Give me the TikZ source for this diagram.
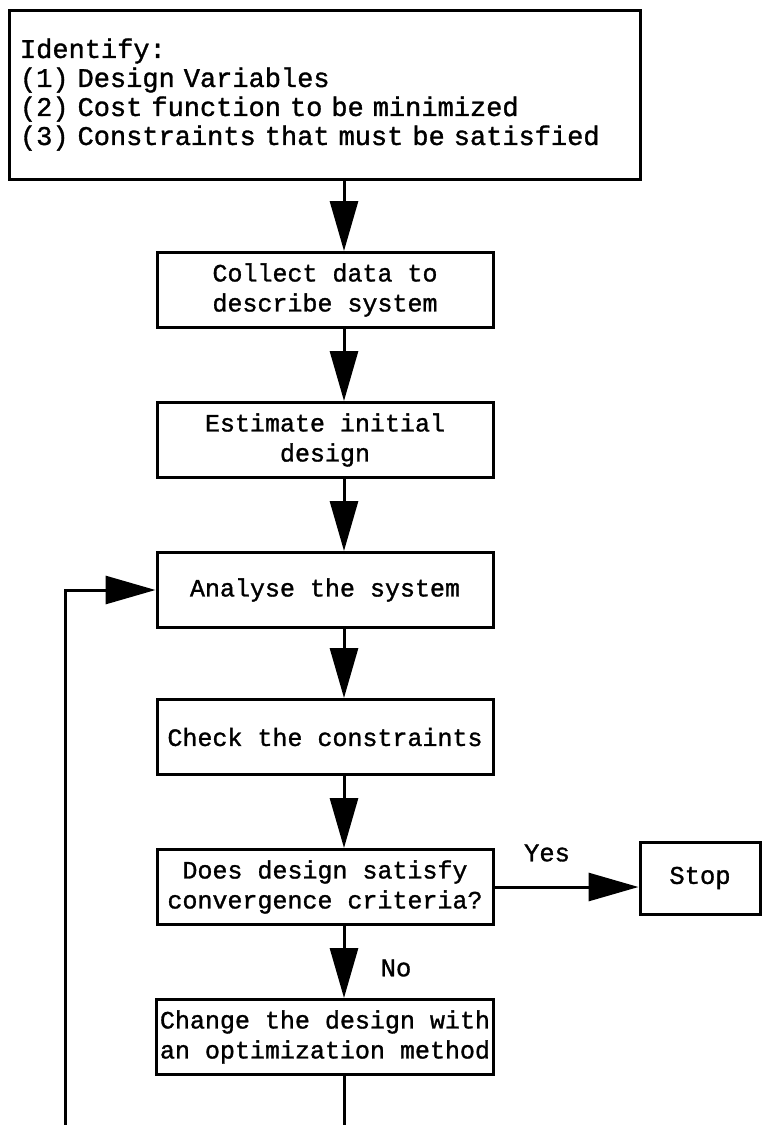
\documentclass[tikz,border=0pt]{standalone}
\usepackage{fontspec}
\setmonofont{Liberation Mono}[FakeBold=1.2]
\usepackage{tikz}
\usetikzlibrary{arrows.meta, positioning, calc}
\tikzset{
  box/.style={rectangle, draw=black, line width=1.5pt,
    minimum width=168pt, minimum height=37.5pt, inner xsep=1.5pt,
    align=center, font=\ttfamily\fontsize{12.5}{15}\selectfont},
  bigbox/.style={rectangle, draw=black, line width=1.5pt,
    minimum width=315.5pt, minimum height=84.5pt,
    text width=304.5pt, align=left, inner xsep=5.5pt,
    font=\ttfamily\fontsize{13.5}{14.5}\selectfont},
  stopbox/.style={rectangle, draw=black, line width=1.5pt,
    minimum width=60pt, minimum height=36pt,
    font=\ttfamily\fontsize{12.75}{15}\selectfont},
  lbl/.style={font=\ttfamily\fontsize{12.75}{15}\selectfont},
  arrow/.style={-{Triangle[length=25pt, width=14pt]}, line width=1.5pt, color=black},
  line/.style={line width=1.5pt, color=black}
}
\begin{document}
\begin{tikzpicture}[x=0.5pt, y=-0.5pt]
  \useasboundingbox (0,0) rectangle (761,1125);
  % column of steps
  \coordinate (spine) at (344,0);
  \node[bigbox] (ident) at (324.5,94.5) {Identify:\\(1) Design Variables\\(2) Cost function to be minimized\\(3) Constraints that must be satisfied};
  \node[box] (collect) at (325,290) {Collect data to\\describe system};
  \node[box] (estimate) at (325,440) {Estimate initial\\design};
  \node[box] (analyse) at (325,590) {Analyse the system};
  \node[box] (check) at (325,737) {Check the constraints};
  \node[box] (converge) at (325,887) {Does design satisfy\\convergence criteria?};
  \node[box] (change) at (325,1037) {Change the design with\\an optimization method};
  \node[stopbox] (stop) at (700,878) {Stop};

  % connectors
  \draw[arrow] (ident.south -| spine) -- (collect.north -| spine);
  \draw[arrow] (collect.south -| spine) -- (estimate.north -| spine);
  \draw[arrow] (estimate.south -| spine) -- (analyse.north -| spine);
  \draw[arrow] (analyse.south -| spine) -- (check.north -| spine);
  \draw[arrow] (check.south -| spine) -- (converge.north -| spine);
  \draw[arrow] (converge.south -| spine) -- (change.north -| spine);
  \draw[arrow] (converge.east) -- (converge.east -| stop.west);
  \node[lbl] (yes) at (547,853) {Yes};
  \node[lbl] (no) at (396,968) {No};

  % loop back (runs off the bottom)
  \coordinate (chgend) at (344,1130);
  \coordinate (loopend) at (65,1130);
  \draw[line] (change.south -| spine) -- (chgend);
  \draw[arrow] (loopend) |- (analyse.west);
\end{tikzpicture}
\end{document}
